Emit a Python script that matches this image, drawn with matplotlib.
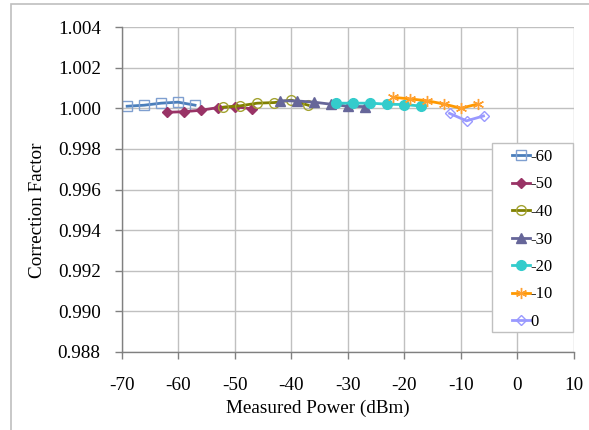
import matplotlib
matplotlib.use("Agg")
import matplotlib.pyplot as plt
from matplotlib.patches import Rectangle

# ---- data ----
x_m60 = [-69, -66, -63, -60, -57]
y_m60 = [1.00010, 1.00015, 1.00025, 1.00030, 1.00015]

x_m50 = [-62, -59, -56, -53, -50, -47]
y_m50 = [0.99980, 0.99983, 0.99990, 1.00003, 1.00008, 0.99997]

x_m40 = [-52, -49, -46, -43, -40, -37]
y_m40 = [1.00005, 1.00012, 1.00025, 1.00028, 1.00040, 1.00015]

x_m30 = [-42, -39, -36, -33, -30, -27]
y_m30 = [1.00037, 1.00036, 1.00030, 1.00020, 1.00010, 1.00008]

x_m20 = [-32, -29, -26, -23, -20, -17]
y_m20 = [1.00025, 1.00025, 1.00025, 1.00020, 1.00018, 1.00011]

x_m10 = [-22, -19, -16, -13, -10, -7]
y_m10 = [1.00054, 1.00046, 1.00037, 1.00021, 1.00000, 1.00021]

x_0 = [-12, -9, -6]
y_0 = [0.99975, 0.99938, 0.99962]

labels = ["-60", "-50", "-40", "-30", "-20", "-10", "0"]
x_ticks = [-70, -60, -50, -40, -30, -20, -10, 0, 10]
y_ticks = [0.988, 0.990, 0.992, 0.994, 0.996, 0.998, 1.000, 1.002, 1.004]

plt.rcParams['font.family'] = ['Liberation Serif', 'DejaVu Serif']
FS = 13.8
LFS = 12

fig = plt.figure(figsize=(5.89, 4.30), dpi=100)
W, H = 589, 430
ax = fig.add_axes([121.5 / W, 1 - 352 / H, (574 - 121.5) / W, (352 - 27) / H])

series = [
    (x_m60, y_m60, dict(color='#4A7EBB', marker='s', mfc='none', mec='#7F9FD0', ms=7, mew=1.0)),
    (x_m50, y_m50, dict(color='#993366', marker='D', mfc='#993366', mec='#993366', ms=5.5)),
    (x_m40, y_m40, dict(color='#808000', marker='o', mfc='none', mec='#A3A330', ms=7, mew=1.0)),
    (x_m30, y_m30, dict(color='#666699', marker='^', mfc='#666699', mec='#666699', ms=6.5)),
    (x_m20, y_m20, dict(color='#33CCCC', marker='o', mfc='#33CCCC', mec='#33CCCC', ms=7)),
    (x_m10, y_m10, dict(color='#FF9900', marker=(6, 2, 0), mfc='none', mec='#FFA030', ms=8, mew=1.0)),
    (x_0, y_0, dict(color='#9999FF', marker='D', mfc='none', mec='#9999FF', ms=5.5, mew=1.0)),
]
for (xs, ys, st), lab in zip(series, labels):
    ax.plot(xs, ys, lw=2, label=lab, **st)

ax.set_xlim(-70, 10)
ax.set_ylim(0.988, 1.004)
ax.set_xticks(x_ticks)
ax.set_yticks(y_ticks)
ax.set_xticklabels([str(v) for v in x_ticks])
ax.set_yticklabels([f"{v:.3f}" for v in y_ticks])
ax.grid(True, color='#C0C0C0', lw=1)
ax.set_axisbelow(True)
for s in ['top', 'right']:
    ax.spines[s].set_visible(False)
for s in ['left', 'bottom']:
    ax.spines[s].set_color('#808080')
    ax.spines[s].set_linewidth(1)
ax.tick_params(axis='both', colors='#808080', labelcolor='black', labelsize=FS,
               length=5, width=1, direction='out')
ax.tick_params(axis='x', pad=13)
ax.tick_params(axis='y', pad=10)

# axis titles, centred on the chart area as in the source
fig.text(318 / W, 1 - 413 / H, "Measured Power (dBm)", fontsize=FS, ha='center', va='baseline')
fig.text(37.5 / W, 1 - 210 / H, "Correction Factor", fontsize=FS, ha='center', va='center',
         rotation=90)

# legend box frame (drawn separately)
fig.patches.append(Rectangle((492 / W, 1 - 332 / H), (573 - 492) / W, (332 - 143) / H,
                             transform=fig.transFigure, facecolor='white',
                             edgecolor='#C0C0C0', lw=1, zorder=5))
leg = fig.legend(*ax.get_legend_handles_labels(), loc='upper left',
                 bbox_to_anchor=(506.7 / W, 1 - 144 / H),
                 frameon=False, fontsize=LFS, handlelength=1.1,
                 handletextpad=0.05, labelspacing=0.69, borderpad=0.3, borderaxespad=0)
leg.set_zorder(6)

# outer chart border
fig.patches.append(Rectangle((11 / W, -0.1), 1.2, (1 - 4 / H) + 0.1, transform=fig.transFigure,
                             fill=False, edgecolor='#BFBFBF', lw=1.2))

fig.savefig("out.png", dpi=100)
